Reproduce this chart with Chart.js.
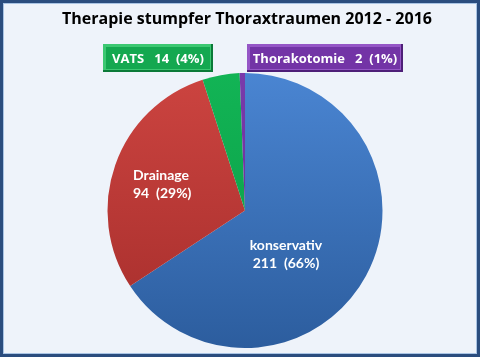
<!DOCTYPE html>
<html>
<head>
<meta charset="utf-8">
<script src="https://cdn.jsdelivr.net/npm/chart.js@4/dist/chart.umd.min.js"></script>
<style>
  html, body { margin: 0; padding: 0; background: #eef3fa; }
  #wrap { width: 480px; height: 357px; }
</style>
</head>
<body>
<div id="wrap"><canvas id="c" width="480" height="357"></canvas></div>
<script>
const title = 'Therapie stumpfer Thoraxtraumen 2012 - 2016';
const labels = ['konservativ', 'Drainage', 'VATS', 'Thorakotomie'];
const counts = [211, 94, 14, 2];
const percents = [66, 29, 4, 1];
const topColors = ['#4a85d2', '#cc4440', '#12b455', '#7a3aab'];
const bottomColors = ['#2c5d9e', '#a52d2b', '#0a9a45', '#62288e'];

// boxes for the small slices, label inside for the big ones
const callouts = {
    2: { x: 103, y: 44, w: 110, h: 28, fill: '#14a850', light: '#3cc872', dark: '#0b7a38' },
    3: { x: 247, y: 44, w: 156, h: 28, fill: '#7334a6', light: '#9556c6', dark: '#4e1f78' }
};
const inside = {
    0: { dx: 41, dy: 44, align: 'center' },
    1: { dx: -112, dy: -26, align: 'left' }
};

const frame = {
    id: 'frame',
    beforeDraw(chart) {
        const ctx = chart.ctx;
        ctx.save();
        ctx.fillStyle = '#eef3fa';
        ctx.fillRect(0, 0, 480, 357);
        ctx.lineWidth = 3;
        ctx.strokeStyle = '#2b4d7e';
        ctx.strokeRect(1.5, 1.5, 477, 354);
        ctx.lineWidth = 1;
        ctx.strokeStyle = '#a9c4e4';
        ctx.strokeRect(3.5, 3.5, 473, 350);
        ctx.fillStyle = '#000000';
        ctx.font = 'bold 16px "Open Sans", Calibri, sans-serif';
        ctx.textAlign = 'center';
        ctx.textBaseline = 'middle';
        ctx.fillText(title, 247, 19);
        ctx.restore();
    }
};

const sliceLabels = {
    id: 'sliceLabels',
    afterDatasetsDraw(chart) {
        const ctx = chart.ctx;
        const arcs = chart.getDatasetMeta(0).data;
        ctx.save();
        ctx.textBaseline = 'middle';
        labels.forEach((name, i) => {
            const arc = arcs[i];
            if (inside[i]) {
                ctx.font = 'bold 14px Lato, "Open Sans", sans-serif';
                ctx.fillStyle = '#ffffff';
                ctx.textAlign = inside[i].align;
                const x = arc.x + inside[i].dx;
                const y = arc.y + inside[i].dy;
                ctx.fillText(name, x, y - 9);
                ctx.fillText(counts[i] + '  (' + percents[i] + '%)', x, y + 9);
            } else if (callouts[i]) {
                const b = callouts[i];
                ctx.fillStyle = b.dark;
                ctx.fillRect(b.x, b.y, b.w, b.h);
                ctx.fillStyle = b.light;
                ctx.fillRect(b.x, b.y, b.w - 2, b.h - 2);
                ctx.fillStyle = b.fill;
                ctx.fillRect(b.x + 3, b.y + 3, b.w - 6, b.h - 6);
                ctx.font = 'bold 13px "Open Sans", sans-serif';
                ctx.fillStyle = '#ffffff';
                ctx.textAlign = 'center';
                ctx.fillText(name + '   ' + counts[i] + '  (' + percents[i] + '%)', b.x + b.w / 2, b.y + b.h / 2 + 1);
            }
        });
        ctx.restore();
    }
};

function sliceFill(context) {
    const chart = context.chart;
    const area = chart.chartArea;
    const i = context.dataIndex;
    if (!area) return topColors[i];
    const g = chart.ctx.createLinearGradient(0, area.top, 0, area.bottom);
    g.addColorStop(0, topColors[i]);
    g.addColorStop(1, bottomColors[i]);
    return g;
}

new Chart(document.getElementById('c'), {
    type: 'pie',
    data: {
        labels: labels,
        datasets: [{
            data: counts,
            backgroundColor: sliceFill,
            borderWidth: 0
        }]
    },
    options: {
        responsive: false,
        animation: false,
        layout: { padding: { top: 73, bottom: 9, left: 10, right: 0 } },
        plugins: {
            legend: { display: false },
            tooltip: { enabled: false }
        }
    },
    plugins: [frame, sliceLabels]
});
</script>
</body>
</html>
